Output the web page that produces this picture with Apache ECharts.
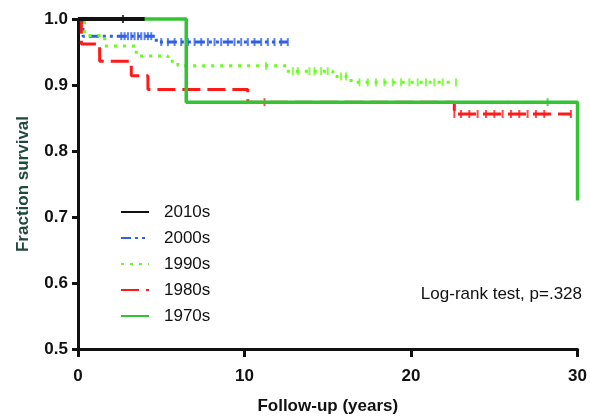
<!DOCTYPE html>
<html>
<head>
<meta charset="utf-8">
<script src="https://cdn.jsdelivr.net/npm/echarts@6/dist/echarts.min.js"></script>
<style>html,body{margin:0;padding:0;background:#fff}#c{width:590px;height:420px}</style>
</head>
<body>
<div id="c"></div>
<script>
// Kaplan-Meier step data (time in years, fraction survival)
const names = ['2010s', '2000s', '1990s', '1980s', '1970s'];
const t2010 = [0, 4.0];
const s2010 = [1.0, 1.0];
const t2000 = [0, 0.3, 4.7, 12.6];
const s2000 = [1.0, 0.974, 0.965, 0.965];
const t1990 = [0, 0.4, 1.6, 3.5, 5.4, 6.0, 12.5, 15.3, 16.4, 22.7];
const s1990 = [1.0, 0.975, 0.959, 0.944, 0.936, 0.929, 0.921, 0.913, 0.904, 0.904];
const t1980 = [0, 0.2, 1.3, 3.2, 4.2, 10.2, 22.6, 29.6];
const s1980 = [1.0, 0.962, 0.936, 0.914, 0.893, 0.874, 0.856, 0.856];
const t1970 = [0, 6.5, 30, 30];
const s1970 = [1.0, 0.874, 0.874, 0.725];

// censored observations (tick marks)
const c2010t = [2.7];
const c2010s = [1.0];
const c2000t = [2.6, 2.8, 3.0, 3.2, 3.4, 3.6, 3.8, 4.0, 4.2, 4.4, 5.0, 5.4, 5.8, 6.2, 6.6, 7.0, 7.4, 7.8, 8.2, 8.6, 9.0, 9.4, 9.8, 10.2, 10.6, 11.0, 11.4, 11.8, 12.2, 12.6];
const c2000s = [0.974, 0.974, 0.974, 0.974, 0.974, 0.974, 0.974, 0.974, 0.974, 0.974, 0.965, 0.965, 0.965, 0.965, 0.965, 0.965, 0.965, 0.965, 0.965, 0.965, 0.965, 0.965, 0.965, 0.965, 0.965, 0.965, 0.965, 0.965, 0.965, 0.965];
const c1990t = [11.3, 12.9, 13.2, 13.9, 14.2, 14.6, 15.0, 15.8, 16.1, 16.9, 17.4, 17.9, 18.4, 18.9, 19.4, 19.9, 20.4, 20.9, 21.4, 21.9, 22.7];
const c1990s = [0.929, 0.921, 0.921, 0.921, 0.921, 0.921, 0.921, 0.913, 0.913, 0.904, 0.904, 0.904, 0.904, 0.904, 0.904, 0.904, 0.904, 0.904, 0.904, 0.904, 0.904];
const c1980t = [11.2, 22.6, 23.0, 23.5, 24.0, 24.5, 25.0, 25.5, 26.0, 26.5, 27.0, 27.5, 28.0, 29.6];
const c1980s = [0.874, 0.856, 0.856, 0.856, 0.856, 0.856, 0.856, 0.856, 0.856, 0.856, 0.856, 0.856, 0.856, 0.856];
const c1970t = [28.2];
const c1970s = [0.874];

const xTicks = [0, 10, 20, 30];
const yTicks = [0.5, 0.6, 0.7, 0.8, 0.9, 1.0];

const colors = ['#111111', '#2e60e6', '#66ff1a', '#ff1a1a', '#33c433'];
const dashes = ['solid', [10, 4, 3, 4, 3, 4], [3, 6], [18, 7], 'solid'];
const widths = [4, 3, 3, 3, 3.5];

const zip = (a, b) => a.map((v, i) => [v, b[i]]);
const curves = [zip(t2010, s2010), zip(t2000, s2000), zip(t1990, s1990), zip(t1980, s1980), zip(t1970, s1970)];
const cens = [zip(c2010t, c2010s), zip(c2000t, c2000s), zip(c1990t, c1990s), zip(c1980t, c1980s), zip(c1970t, c1970s)];

const FONT = '"Liberation Sans", Arial, Helvetica, sans-serif';
const series = [];
[0, 1, 2, 3, 4].forEach(i => {
  series.push({
    name: names[i], type: 'line', step: 'end', data: curves[i], symbol: 'none', clip: false,
    lineStyle: { color: colors[i], width: widths[i], type: dashes[i] }, itemStyle: { color: colors[i] },
    z: i === 0 ? 10 : 2 + i, animation: false
  });
  series.push({
    name: names[i] + ' censored', type: 'scatter', data: cens[i], symbol: 'rect', symbolSize: [2, 8],
    itemStyle: { color: colors[i] }, clip: false, z: 2 + i, animation: false, silent: true
  });
});

const chart = echarts.init(document.getElementById('c'));
chart.setOption({
  backgroundColor: '#fff',
  animation: false,
  grid: { left: 78, right: 10, top: 19, bottom: 68 },
  xAxis: {
    type: 'value', min: xTicks[0], max: xTicks[xTicks.length - 1], interval: 10,
    name: 'Follow-up (years)', nameLocation: 'middle', nameGap: 49,
    nameTextStyle: { fontFamily: FONT, fontSize: 17, fontWeight: 'bold', color: '#111' },
    axisLine: { lineStyle: { color: '#111', width: 3 } },
    axisTick: { length: 8, lineStyle: { color: '#111', width: 3 } },
    axisLabel: { margin: 19, fontFamily: FONT, fontSize: 17, fontWeight: 'bold', color: '#111' },
    splitLine: { show: false }
  },
  yAxis: {
    type: 'value', min: yTicks[0], max: yTicks[yTicks.length - 1], interval: 0.1,
    name: 'Fraction survival', nameLocation: 'middle', nameGap: 46,
    nameTextStyle: { fontFamily: FONT, fontSize: 17, fontWeight: 'bold', color: '#1f4a3b' },
    axisLine: { show: true, lineStyle: { color: '#111', width: 3 } },
    axisTick: { show: true, length: 6, lineStyle: { color: '#111', width: 3 } },
    axisLabel: { margin: 10, fontFamily: FONT, fontSize: 17, fontWeight: 'bold', color: '#111', formatter: v => v.toFixed(1) },
    splitLine: { show: false }
  },
  legend: {
    data: names, orient: 'vertical', left: 120, top: 202, padding: 0, itemWidth: 28, itemHeight: 14, itemGap: 6,
    itemStyle: { opacity: 0 },
    textStyle: { fontFamily: FONT, fontSize: 17, color: '#111', lineHeight: 20, padding: [0, 0, 0, 10] },
    selectedMode: false
  },
  graphic: [{
    type: 'text', right: 8, top: 286,
    style: { text: 'Log-rank test, p=.328', font: '17px ' + FONT, fill: '#111' }
  }],
  series: series
});
</script>
</body>
</html>
